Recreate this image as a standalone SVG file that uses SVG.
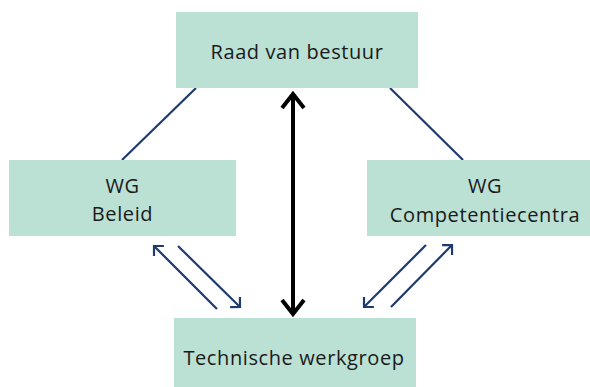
<svg xmlns="http://www.w3.org/2000/svg" width="590" height="387" viewBox="0 0 590 387">
<defs>
<style>
.box{fill:#bbe0d4}
.t{font-family:"Open Sans","Liberation Sans",sans-serif;font-size:20px;letter-spacing:0.6px;fill:#1a1a1a;text-anchor:middle}
.blue{stroke:#1f3a6e;stroke-width:2.2;fill:none}
</style>
<marker id="bh" viewBox="0 0 12 18" refX="8" refY="9" markerWidth="12" markerHeight="18" markerUnits="userSpaceOnUse" orient="auto-start-reverse">
<path d="M1,2 L8,9 L1,16" fill="none" stroke="#1f3a6e" stroke-width="2.2"/>
</marker>
<marker id="kh" viewBox="0 0 22 30" refX="18" refY="15" markerWidth="22" markerHeight="30" markerUnits="userSpaceOnUse" orient="auto-start-reverse">
<path d="M4,4 L18,15 L4,26" fill="none" stroke="#000" stroke-width="4"/>
</marker>
</defs>
<g id="connectors">
<line class="blue" x1="196" y1="88" x2="122" y2="160"/>
<line class="blue" x1="390" y1="88" x2="463" y2="160"/>
<line x1="293" y1="94" x2="293" y2="314" stroke="#000" stroke-width="4" marker-start="url(#kh)" marker-end="url(#kh)"/>
<line class="blue" x1="217" y1="309" x2="154" y2="246" marker-end="url(#bh)"/>
<line class="blue" x1="178" y1="246" x2="240" y2="307" marker-end="url(#bh)"/>
<line class="blue" x1="426" y1="245" x2="364" y2="307" marker-end="url(#bh)"/>
<line class="blue" x1="391" y1="307" x2="452" y2="245" marker-end="url(#bh)"/>
</g>
<g id="raad">
<rect class="box" x="176" y="12" width="242" height="76"/>
<text class="t" x="297" y="59">Raad van bestuur</text>
</g>
<g id="beleid">
<rect class="box" x="9" y="160" width="227" height="76"/>
<text class="t" x="122.5" y="193">WG</text>
<text class="t" x="122.5" y="221">Beleid</text>
</g>
<g id="competentiecentra">
<rect class="box" x="367" y="160" width="230" height="76"/>
<text class="t" x="485" y="193">WG</text>
<text class="t" x="485" y="222">Competentiecentra</text>
</g>
<g id="technische">
<rect class="box" x="174" y="318" width="242" height="69"/>
<text class="t" x="294" y="365">Technische werkgroep</text>
</g>
</svg>
